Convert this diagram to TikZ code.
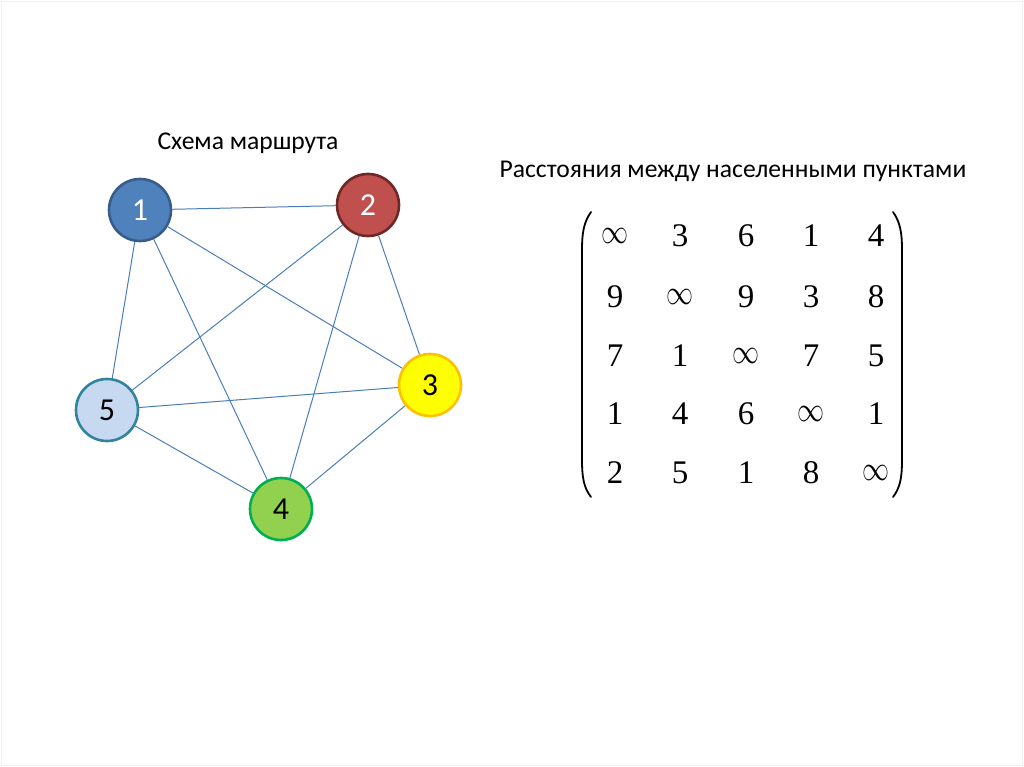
\documentclass[tikz,border=0pt]{standalone}
\usepackage{fontspec}
\setmainfont{Carlito}
\newfontfamily\matfont{Liberation Serif}
\newcommand{\inftyglyph}{\raisebox{3pt}{\resizebox{27pt}{15pt}{$\infty$}}}
\begin{document}
\begin{tikzpicture}[x=1pt,y=-1pt,
  vert/.style={circle,minimum size=62pt,inner sep=0pt,line width=2.6pt,font=\fontsize{32}{32}\selectfont},
  edge/.style={draw=edgeblue,line width=1pt},
  mat/.style={font=\matfont\fontsize{33}{33}\selectfont,inner sep=0pt,anchor=base},
  paren/.style={line width=1.8pt,line cap=round},
  title/.style={font=\fontsize{25.6}{25.6}\selectfont}]
\definecolor{edgeblue}{HTML}{4A7EBB}
\useasboundingbox (0,0) rectangle (1024,767);
\draw[black!6,line width=0.8pt] (1,1) rectangle (1022,765);
\node[title] (t1) at (248,143) {Схема маршрута};
\node[title] (t2) at (733,171) {Расстояния между населенными пунктами};
\node[vert,fill={rgb,255:red,79;green,129;blue,189},draw={rgb,255:red,56;green,93;blue,138},text=white] (v1) at (140,210) {1};
\node[vert,fill={rgb,255:red,192;green,80;blue,77},draw={rgb,255:red,110;green,40;blue,38},text=white] (v2) at (368,205) {2};
\node[vert,fill={rgb,255:red,255;green,255;blue,0},draw={rgb,255:red,255;green,192;blue,0}] (v3) at (430,385) {3};
\node[vert,fill={rgb,255:red,146;green,208;blue,80},draw={rgb,255:red,0;green,176;blue,80}] (v4) at (281,509) {4};
\node[vert,fill={rgb,255:red,198;green,217;blue,241},draw={rgb,255:red,49;green,132;blue,155}] (v5) at (107,410) {5};
\path[edge] (v1) -- (v2);
\path[edge] (v1) -- (v3);
\path[edge] (v1) -- (v4);
\path[edge] (v1) -- (v5);
\path[edge] (v2) -- (v3);
\path[edge] (v2) -- (v4);
\path[edge] (v2) -- (v5);
\path[edge] (v3) -- (v4);
\path[edge] (v3) -- (v5);
\path[edge] (v4) -- (v5);
% matrix entries (y = baseline)
\foreach \r/\y/\a/\b/\c/\d/\e in {1/247/\inftyglyph/3/6/1/4, 2/307/9/\inftyglyph/9/3/8, 3/366/7/1/\inftyglyph/7/5, 4/424/1/4/6/\inftyglyph/1, 5/483/2/5/1/8/\inftyglyph}{
  \node[mat] (m\r a) at (615,\y) {\a};
  \node[mat] (m\r b) at (680,\y) {\b};
  \node[mat] (m\r c) at (746,\y) {\c};
  \node[mat] (m\r d) at (811,\y) {\d};
  \node[mat] (m\r e) at (876,\y) {\e};
}
\coordinate (lt) at (591,212); \coordinate (lb) at (591,497);
\coordinate (rt) at (893,212); \coordinate (rb) at (893,497);
\draw[paren] (lt) .. controls (584,222) and (582,232) .. (582,250) -- (582,460) .. controls (582,478) and (584,488) .. (lb);
\draw[paren] (rt) .. controls (900,222) and (902,232) .. (902,250) -- (902,460) .. controls (902,478) and (900,488) .. (rb);
\end{tikzpicture}
\end{document}
